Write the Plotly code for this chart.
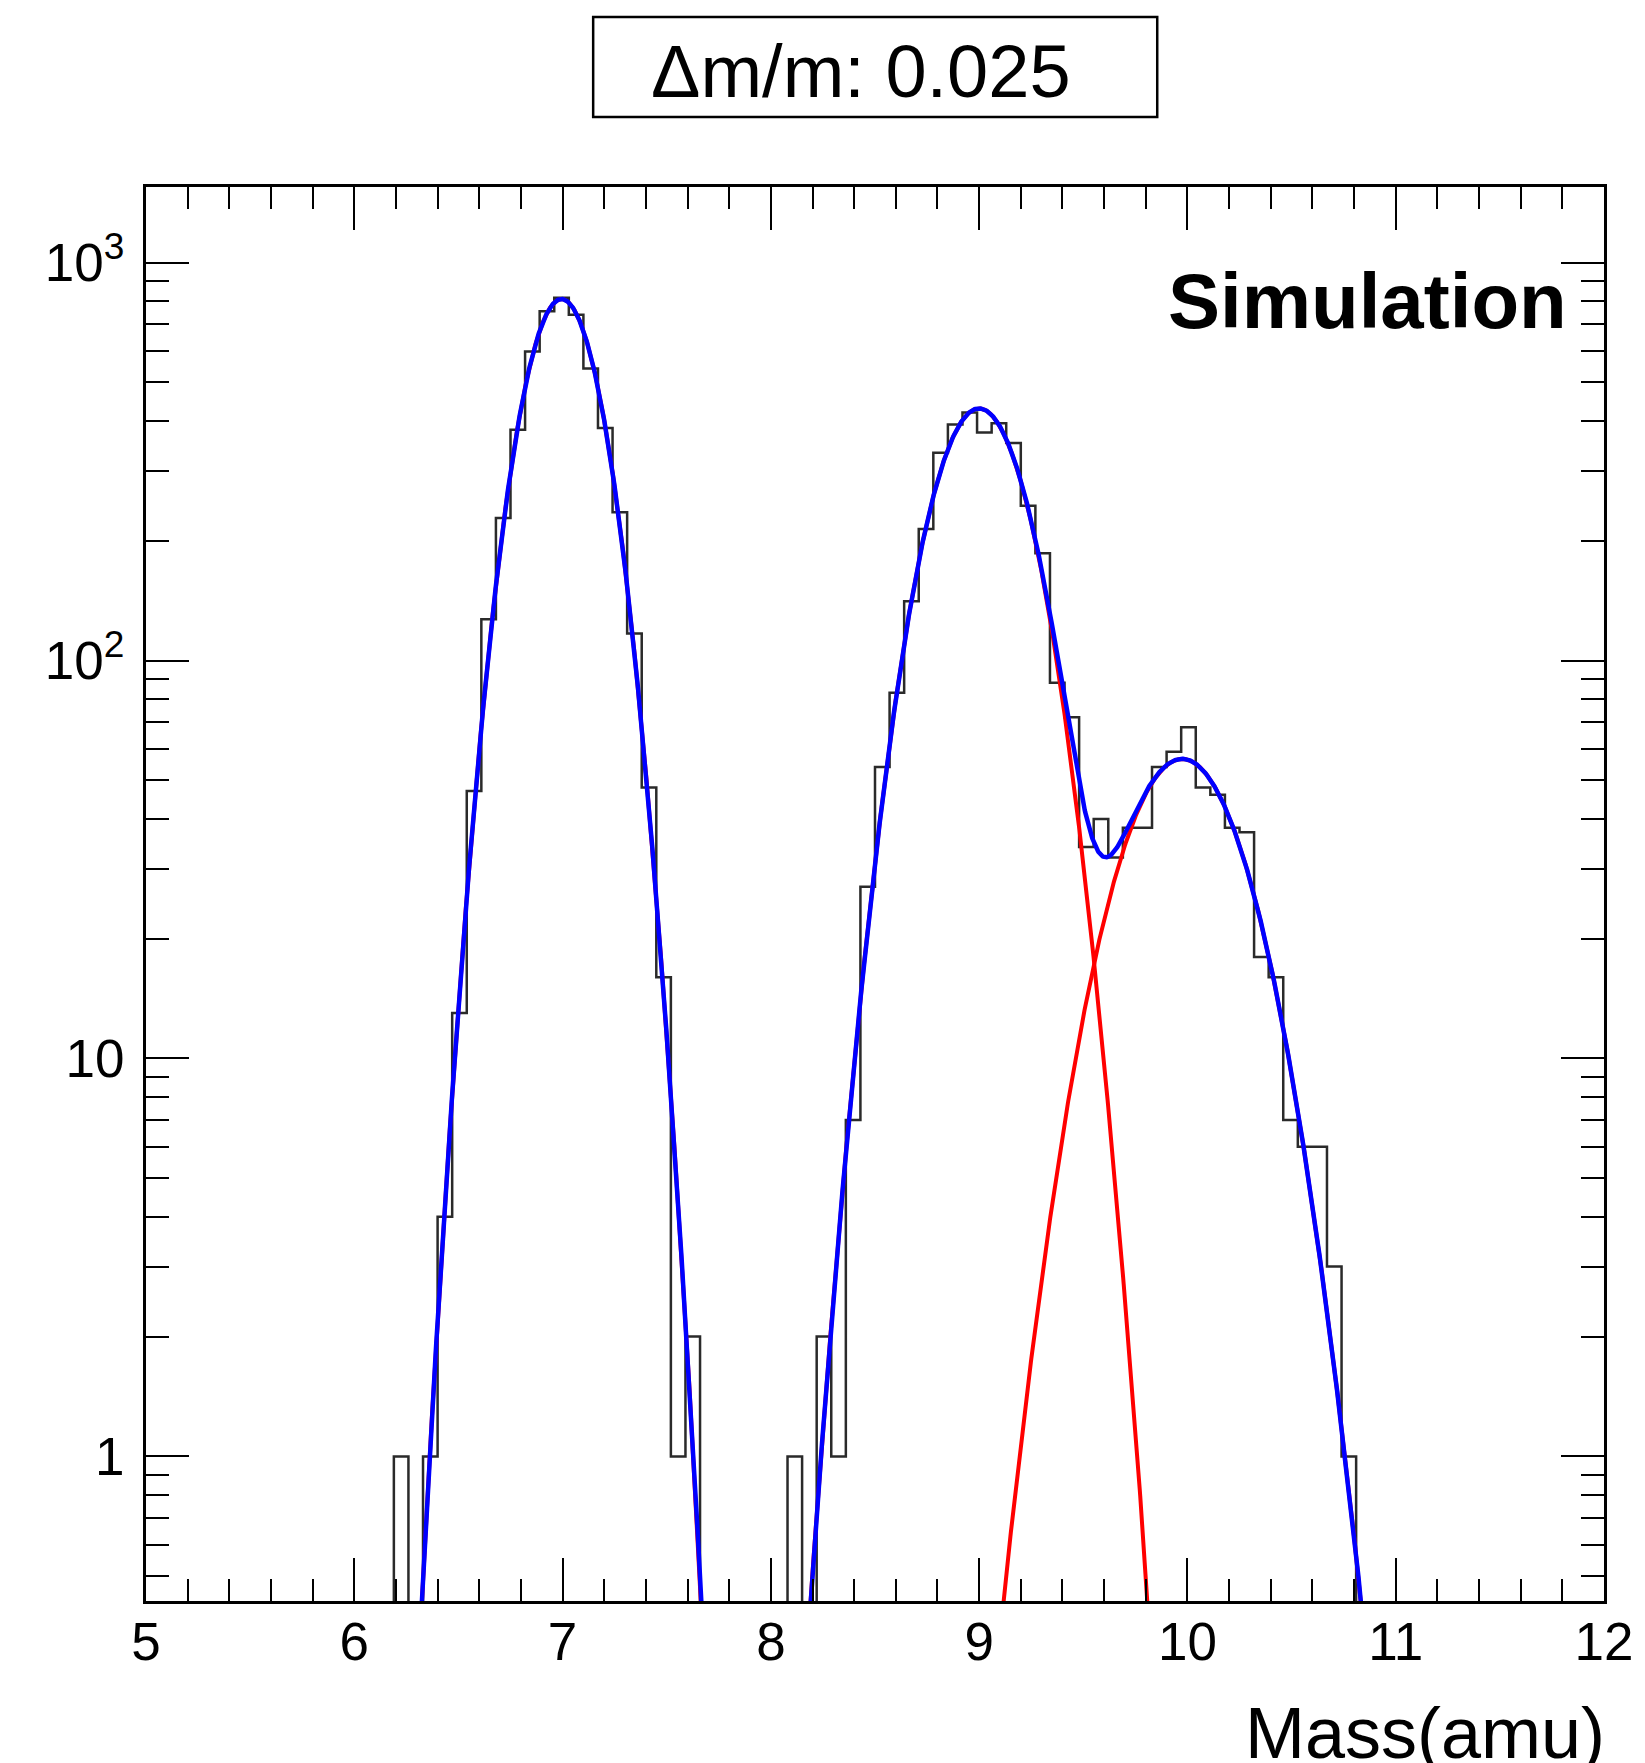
import numpy as np
import plotly.graph_objects as go

# ---------------- data ----------------
x_min, x_max, n_bins = 5.0, 12.0, 100
counts = [0]*17 + [1, 0, 1, 4, 13, 47, 127, 228, 380, 598, 755, 816, 740, 542, 384, 236, 117, 48, 16, 1, 2] \
    + [0]*6 + [1, 0, 2, 1, 7, 27, 54, 83, 141, 214, 333, 392, 420, 374, 395, 352, 245, 186, 88, 72,
               34, 40, 32, 38, 38, 54, 59, 68, 48, 46, 38, 37, 18, 16, 7, 6, 6, 3, 1] + [0]*17

fit_amplitudes = [810.0, 430.0, 56.6]
fit_means = [6.995, 9.0, 9.975]
fit_sigmas = [0.173, 0.218, 0.275]

x_tick_vals = [5, 6, 7, 8, 9, 10, 11, 12]
y_tick_vals = [1, 10, 100, 1000]
y_tick_text = ["1", "10", "10<sup>2</sup>", "10<sup>3</sup>"]

title_text = "\u0394m/m: 0.025"
label_text = "Simulation"
x_title = "Mass(amu)"

# ---------------- figure ----------------
W, H = 1645, 1763
# plot area in page pixels
PL, PR, PT, PB = 146.3, 1609.3, 187.0, 1601.0
L, R, T, B = PL, W - PR, PT, H - PB
pw, ph = PR - PL, PB - PT

def px2paper_x(px):
    return (px - PL) / pw

def px2paper_y(py):
    return (PB - py) / ph

edges = np.linspace(x_min, x_max, n_bins + 1)
cnt = np.array(counts, dtype=float)
cnt_plot = np.where(cnt > 0, cnt, 1e-2)
hist_x = edges
hist_y = np.append(cnt_plot, cnt_plot[-1])

xs = np.linspace(x_min, x_max, 3000)
comps = [a * np.exp(-(xs - m) ** 2 / (2 * s ** 2)) for a, m, s in zip(fit_amplitudes, fit_means, fit_sigmas)]
total = np.sum(comps, axis=0)

fig = go.Figure()
fig.add_trace(go.Scatter(x=hist_x, y=hist_y, mode="lines", line=dict(shape="hv", color="#2a2a2a", width=2.5),
                         hoverinfo="skip", showlegend=False))
for c in comps:
    cc = np.where(c > 1e-6, c, 1e-6)
    fig.add_trace(go.Scatter(x=xs, y=cc, mode="lines", line=dict(color="#ff0000", width=4),
                             showlegend=False))
fig.add_trace(go.Scatter(x=xs, y=np.where(total > 1e-6, total, 1e-6), mode="lines",
                         line=dict(color="#0000ff", width=4.5), showlegend=False))

font_family = "Liberation Sans, Arial, sans-serif"

fig.update_layout(
    width=W, height=H,
    margin=dict(l=L, r=R, t=T, b=B, pad=0),
    paper_bgcolor="white", plot_bgcolor="white",
    font=dict(family=font_family, color="black"),
    showlegend=False,
)

minor_y = [m * 10.0 ** e for e in range(-1, 4) for m in range(2, 10)]

fig.update_xaxes(
    range=[x_min, x_max], tickvals=x_tick_vals, ticks="inside", ticklen=43, tickwidth=2,
    tickcolor="black", showline=True, linewidth=3, linecolor="black", mirror="ticks",
    showgrid=False, zeroline=False, tickfont=dict(size=53, family=font_family),
    ticklabelstandoff=-8,
    minor=dict(dtick=0.2, ticks="inside", ticklen=22, tickwidth=2, tickcolor="black", showgrid=False),
)
fig.update_yaxes(
    type="log", range=[-0.3634, 3.190], tickvals=y_tick_vals, ticktext=y_tick_text,
    ticks="inside", ticklen=43, tickwidth=2, tickcolor="black",
    showline=True, linewidth=3, linecolor="black", mirror="ticks",
    showgrid=False, zeroline=False, tickfont=dict(size=53, family=font_family),
    ticklabelstandoff=8,
    minor=dict(tickvals=minor_y, ticks="inside", ticklen=23, tickwidth=2, tickcolor="black", showgrid=False),
)

# title box
fig.add_shape(type="rect", xref="paper", yref="paper",
              x0=px2paper_x(595), x1=px2paper_x(1161), y0=px2paper_y(117), y1=px2paper_y(17),
              line=dict(color="black", width=2.5), fillcolor="white", layer="above")
fig.add_annotation(text=title_text, xref="paper", yref="paper", x=px2paper_x(864), y=px2paper_y(71),
                   xanchor="center", yanchor="middle", showarrow=False,
                   font=dict(size=74, family=font_family, color="black"))
fig.add_annotation(text="<b>" + label_text + "</b>", xref="paper", yref="paper",
                   x=px2paper_x(1574), y=px2paper_y(301), xanchor="right", yanchor="middle",
                   showarrow=False, font=dict(size=78, family=font_family, color="black"))
fig.add_annotation(text=x_title, xref="paper", yref="paper", x=px2paper_x(1612), y=px2paper_y(1733),
                   xanchor="right", yanchor="middle", showarrow=False,
                   font=dict(size=72, family=font_family, color="black"))

fig.write_html("out.html", config={"displayModeBar": False},
               post_script="document.body.style.margin='0px';document.body.style.padding='0px';")
